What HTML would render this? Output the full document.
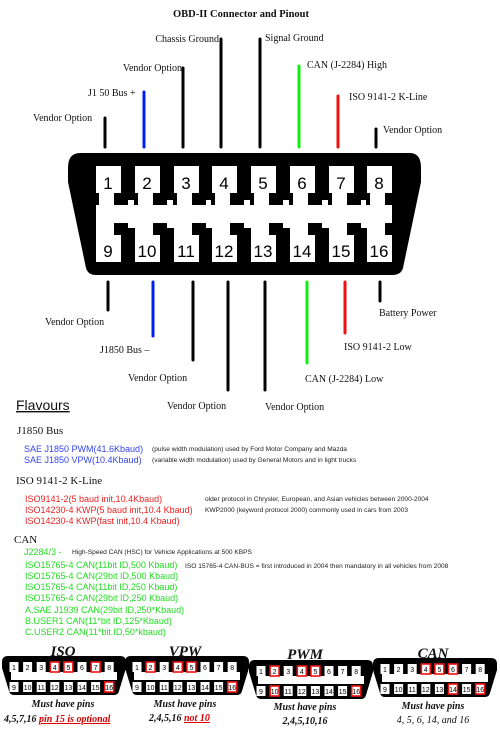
<!DOCTYPE html>
<html><head><meta charset="utf-8"><style>
html,body{margin:0;padding:0;background:#fff;}
svg{display:block;}
.s{font-family:"Liberation Serif",serif;font-size:10px;fill:#111;}
.a{font-family:"Liberation Sans",sans-serif;}
</style></head><body>
<svg id="root" width="500" height="732" viewBox="0 0 500 732">
<text x="241" y="17" text-anchor="middle" class="s" style="font-weight:bold;font-size:10.5px">OBD-II Connector and Pinout</text>
<g id="conn"></g>
<g id="lines"></g>
<g class="s">
<text x="219" y="42" text-anchor="end">Chassis Ground</text>
<text x="265" y="41">Signal Ground</text>
<text x="182" y="71" text-anchor="end">Vendor Option</text>
<text x="307" y="68">CAN (J-2284) High</text>
<text x="88" y="96">J1  50 Bus +</text>
<text x="349" y="100">ISO 9141-2 K-Line</text>
<text x="33" y="121">Vendor Option</text>
<text x="383" y="133">Vendor Option</text>
<text x="45" y="325">Vendor Option</text>
<text x="100" y="353">J1850 Bus –</text>
<text x="379" y="316">Battery Power</text>
<text x="344" y="350">ISO 9141-2 Low</text>
<text x="128" y="381">Vendor Option</text>
<text x="305" y="382">CAN (J-2284) Low</text>
<text x="167" y="409">Vendor Option</text>
<text x="265" y="410">Vendor Option</text>
</g>
<g>
<text x="16" y="410" class="a" style="font-size:14px;text-decoration:underline" fill="#111">Flavours</text>
<text x="17" y="434" class="s" style="font-size:11px">J1850 Bus</text>
<g class="a" style="font-size:9px" fill="#3344ee"><text x="24" y="452">SAE J1850 PWM(41.6Kbaud)</text><text x="24" y="463">SAE J1850 VPW(10.4Kbaud)</text></g>
<g class="a" style="font-size:6.6px" fill="#222"><text x="152" y="451">(pulse width modulation)  used by Ford Motor Company and Mazda</text><text x="152" y="462">(variable width modulation) used by General Motors and in light trucks</text></g>
<text x="16" y="484" class="s" style="font-size:11px">ISO 9141-2 K-Line</text>
<g class="a" style="font-size:9px" fill="#ee2222"><text x="25" y="502">ISO9141-2(5 baud init,10.4Kbaud)</text><text x="25" y="513">ISO14230-4 KWP(5 baud init,10.4 Kbaud)</text><text x="25" y="524">ISO14230-4 KWP(fast init,10.4 Kbaud)</text></g>
<g class="a" style="font-size:6.6px" fill="#222"><text x="205" y="501">older protocol in Chrysler, European, and Asian vehicles between 2000-2004</text><text x="205" y="512">KWP2000 (keyword protocol 2000) commonly used in cars from 2003</text></g>
<text x="14" y="543" class="s" style="font-size:11px">CAN</text>
<g class="a" style="font-size:9px" fill="#22dd22"><text x="24" y="555">J2284/3  -</text><text x="25" y="568">ISO15765-4 CAN(11bit ID,500 Kbaud)</text><text x="25" y="579">ISO15765-4 CAN(29bit ID,500 Kbaud)</text><text x="25" y="590">ISO15765-4 CAN(11bit ID,250 Kbaud)</text><text x="25" y="601">ISO15765-4 CAN(29bit ID,250 Kbaud)</text><text x="25" y="613">A.SAE J1939 CAN(29bit ID,250*Kbaud)</text><text x="25" y="624">B.USER1 CAN(11*bit ID,125*Kbaud)</text><text x="25" y="635">C.USER2 CAN(11*bit ID,50*kbaud)</text></g>
<g class="a" style="font-size:6.6px" fill="#222"><text x="72" y="554">High-Speed CAN (HSC) for Vehicle Applications at 500 KBPS</text><text x="185" y="568">ISO 15765-4 CAN-BUS = first introduced in 2004 then mandatory in all vehicles from 2008</text></g>
</g>
<g id="minis"></g>
<g class="s" style="font-weight:bold;font-style:italic">
<text x="63" y="656" text-anchor="middle" style="font-size:15px">ISO</text>
<text x="185" y="656" text-anchor="middle" style="font-size:15px">VPW</text>
<text x="305" y="659" text-anchor="middle" style="font-size:15px">PWM</text>
<text x="433" y="658" text-anchor="middle" style="font-size:15px">CAN</text>
<text x="63" y="707" text-anchor="middle">Must have pins</text>
<text x="185" y="707" text-anchor="middle">Must have pins</text>
<text x="305" y="710" text-anchor="middle">Must have pins</text>
<text x="433" y="709" text-anchor="middle">Must have pins</text>
<text x="4" y="722">4,5,7,16 <tspan fill="#dd0000" text-decoration="underline">pin 15 is optional</tspan></text>
<text x="149" y="721">2,4,5,16 <tspan fill="#dd0000" text-decoration="underline">not 10</tspan></text>
<text x="305" y="724" text-anchor="middle">2,4,5,10,16</text>
<text x="433" y="723" text-anchor="middle" style="font-weight:normal">4, 5, 6, 14, and 16</text>
</g>
</svg>
<script>
const NS='http://www.w3.org/2000/svg';
function mk(p,t,a){const e=document.createElementNS(NS,t);for(const k in a)e.setAttribute(k,a[k]);p.appendChild(e);return e;}
const topX=[108,147,186,224,263,302,341,379];
const botX=[108,153,193,228,265,307,345,380];
const colors=['#000','#0022ee','#000','#000','#000','#11ee11','#ee1111','#000'];
const topY1=[118,92,68,39,39,66,96,129];
const botY2=[310,336,360,390,390,363,333,301];
const conn=document.getElementById('conn');
let b=mk(conn,'path',{d:'M80 153 L410 153 Q421 153 421 168 L421 182 L403 268 Q401 275 392 275 L96 275 Q88 275 86 268 L68 182 L68 168 Q68 153 80 153 Z',fill:'#000'});

mk(conn,'rect',{x:96,y:200,width:296,height:28,fill:'#fff'});
topX.forEach((x,i)=>{
 let r=mk(conn,'rect',{x:x-12,y:166,width:25,height:34,fill:'#fff'});
 
 mk(conn,'rect',{x:x-12,y:228,width:25,height:34,fill:'#fff'});
 mk(conn,'rect',{x:x+6,y:193,width:14,height:12,fill:'#000'});
 mk(conn,'rect',{x:x+6,y:223,width:14,height:12,fill:'#000'});
 mk(conn,'rect',{x:x-13,y:193,width:4,height:12,fill:'#000'});
 let t=mk(conn,'text',{x:x,y:189,'text-anchor':'middle','font-family':'Liberation Sans, sans-serif','font-size':17,fill:'#000'});t.textContent=i+1;
 let t2=mk(conn,'text',{x:x,y:257,'text-anchor':'middle','font-family':'Liberation Sans, sans-serif','font-size':17,fill:'#000'});t2.textContent=i+9;
});
const lines=document.getElementById('lines');
topX.forEach((x,i)=>{
 let l=mk(lines,'line',{x1:x-3,x2:x-3,y1:topY1[i],y2:147,stroke:colors[i],'stroke-width':3,'stroke-linecap':'round'});
 
 let l2=mk(lines,'line',{x1:botX[i],x2:botX[i],y1:282,y2:botY2[i],stroke:colors[i],'stroke-width':3,'stroke-linecap':'round'});
 
});
const minis=[{x:2,y:656,hl:[4,5,7,16]},{x:125,y:656,hl:[2,4,5,16]},{x:249,y:660,hl:[2,4,5,10,16]},{x:373,y:658,hl:[4,5,6,14,16]}];
const mg=document.getElementById('minis');
minis.forEach((m,k)=>{
 const g=mk(mg,'g',{transform:'translate('+m.x+','+m.y+')'});
 
 
 mk(g,'path',{d:'M6 0 L118 0 Q124 0 124 6 L124 12 L117 35 Q116 39 112 39 L12 39 Q8 39 7 35 L0 12 L0 6 Q0 0 6 0 Z',fill:'#000'});
 mk(g,'rect',{x:9,y:16,width:106,height:8,fill:'#fff'});
 for(let i=0;i<16;i++){
  const c=12+(i%8)*13.6, y=i<8?6:26, n=i+1, h=m.hl.includes(n);
  mk(g,'rect',{x:c-4.5,y:y,width:9,height:10,fill:'#fff',stroke:h?'#ee1111':'none','stroke-width':1.6});
  let t=mk(g,'text',{x:c,y:y+8,'text-anchor':'middle','font-family':'Liberation Sans, sans-serif','font-size':7,fill:'#000'});t.textContent=n;
 }
});
</script>
</body></html>
